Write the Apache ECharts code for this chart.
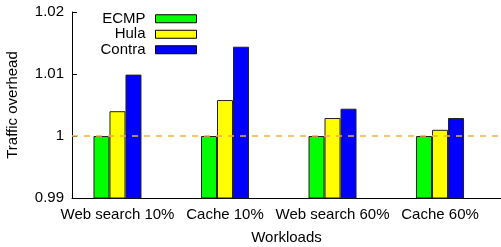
<!DOCTYPE html>
<html>
<head>
<meta charset="utf-8">
<script src="https://cdn.jsdelivr.net/npm/echarts@6/dist/echarts.min.js"></script>
<style>
  html, body { margin: 0; padding: 0; background: #fff; }
  #chart { width: 501px; height: 247px; }
</style>
</head>
<body>
<div id="chart"></div>
<script>
const workloads = ['Web search 10%', 'Cache 10%', 'Web search 60%', 'Cache 60%'];
const ecmp = [1.0, 1.0, 1.0, 1.0];
const hula = [1.004, 1.0058, 1.0029, 1.001];
const contra = [1.0099, 1.0144, 1.0044, 1.0029];
const yTicks = [0.99, 1, 1.01, 1.02];

const font = 'Liberation Sans, Arial, Helvetica, sans-serif';

// bars sit on a value axis so the groups can be offset from the y axis like in gnuplot
const toPoints = (vals) => vals.map((v, i) => [i, v]);

const barSeries = (name, color, vals) => ({
  name,
  type: 'bar',
  data: toPoints(vals),
  barWidth: 16,
  barGap: '0%',
  itemStyle: { color, borderColor: '#222', borderWidth: 1 },
});

const chart = echarts.init(document.getElementById('chart'));
const series = [
  barSeries('ECMP', '#00ff00', ecmp),
  barSeries('Hula', '#ffff00', hula),
  barSeries('Contra', '#0000ff', contra),
];
series[2].markLine = {
  silent: true,
  symbol: 'none',
  label: { show: false },
  lineStyle: { color: '#f0b040', width: 1.5, type: [6, 6] },
  data: [{ yAxis: 1 }],
};

chart.setOption({
  animation: false,
  grid: { left: 72, right: 0, top: 12, bottom: 49, outerBoundsMode: 'none', containLabel: false },
  legend: {
    orient: 'vertical',
    align: 'right',
    right: 304,
    top: 11,
    padding: 0,
    itemGap: 0,
    itemWidth: 41,
    itemHeight: 8,
    icon: 'rect',
    itemStyle: { borderColor: '#000', borderWidth: 1 },
    textStyle: {
      fontFamily: font, fontSize: 15, color: '#000', lineHeight: 15.5,
      padding: [0, 5, 0, 0],
    },
    data: ['ECMP', 'Hula', 'Contra'],
  },
  xAxis: {
    type: 'value',
    min: -0.423,
    max: 3.567,
    name: 'Workloads',
    nameLocation: 'middle',
    nameGap: 32,
    nameTextStyle: { fontFamily: font, fontSize: 15, color: '#000' },
    axisLine: { onZero: false, lineStyle: { color: '#000', width: 1 } },
    axisTick: { show: false },
    splitLine: { show: false },
    axisLabel: {
      customValues: [0, 1, 2, 3],
      formatter: (v) => workloads[Math.round(v)],
      margin: 9,
      fontFamily: font,
      fontSize: 15,
      color: '#000',
    },
  },
  yAxis: {
    type: 'value',
    min: yTicks[0],
    max: yTicks[yTicks.length - 1],
    interval: 0.01,
    name: 'Traffic overhead',
    nameLocation: 'middle',
    nameGap: 52,
    nameTextStyle: { fontFamily: font, fontSize: 15, color: '#000' },
    axisLine: { show: true, onZero: false, lineStyle: { color: '#000', width: 1 } },
    axisTick: { show: true, inside: true, length: 5, lineStyle: { color: '#000' } },
    splitLine: { show: false },
    axisLabel: { margin: 8, fontFamily: font, fontSize: 15, color: '#000' },
  },
  series,
});
</script>
</body>
</html>
